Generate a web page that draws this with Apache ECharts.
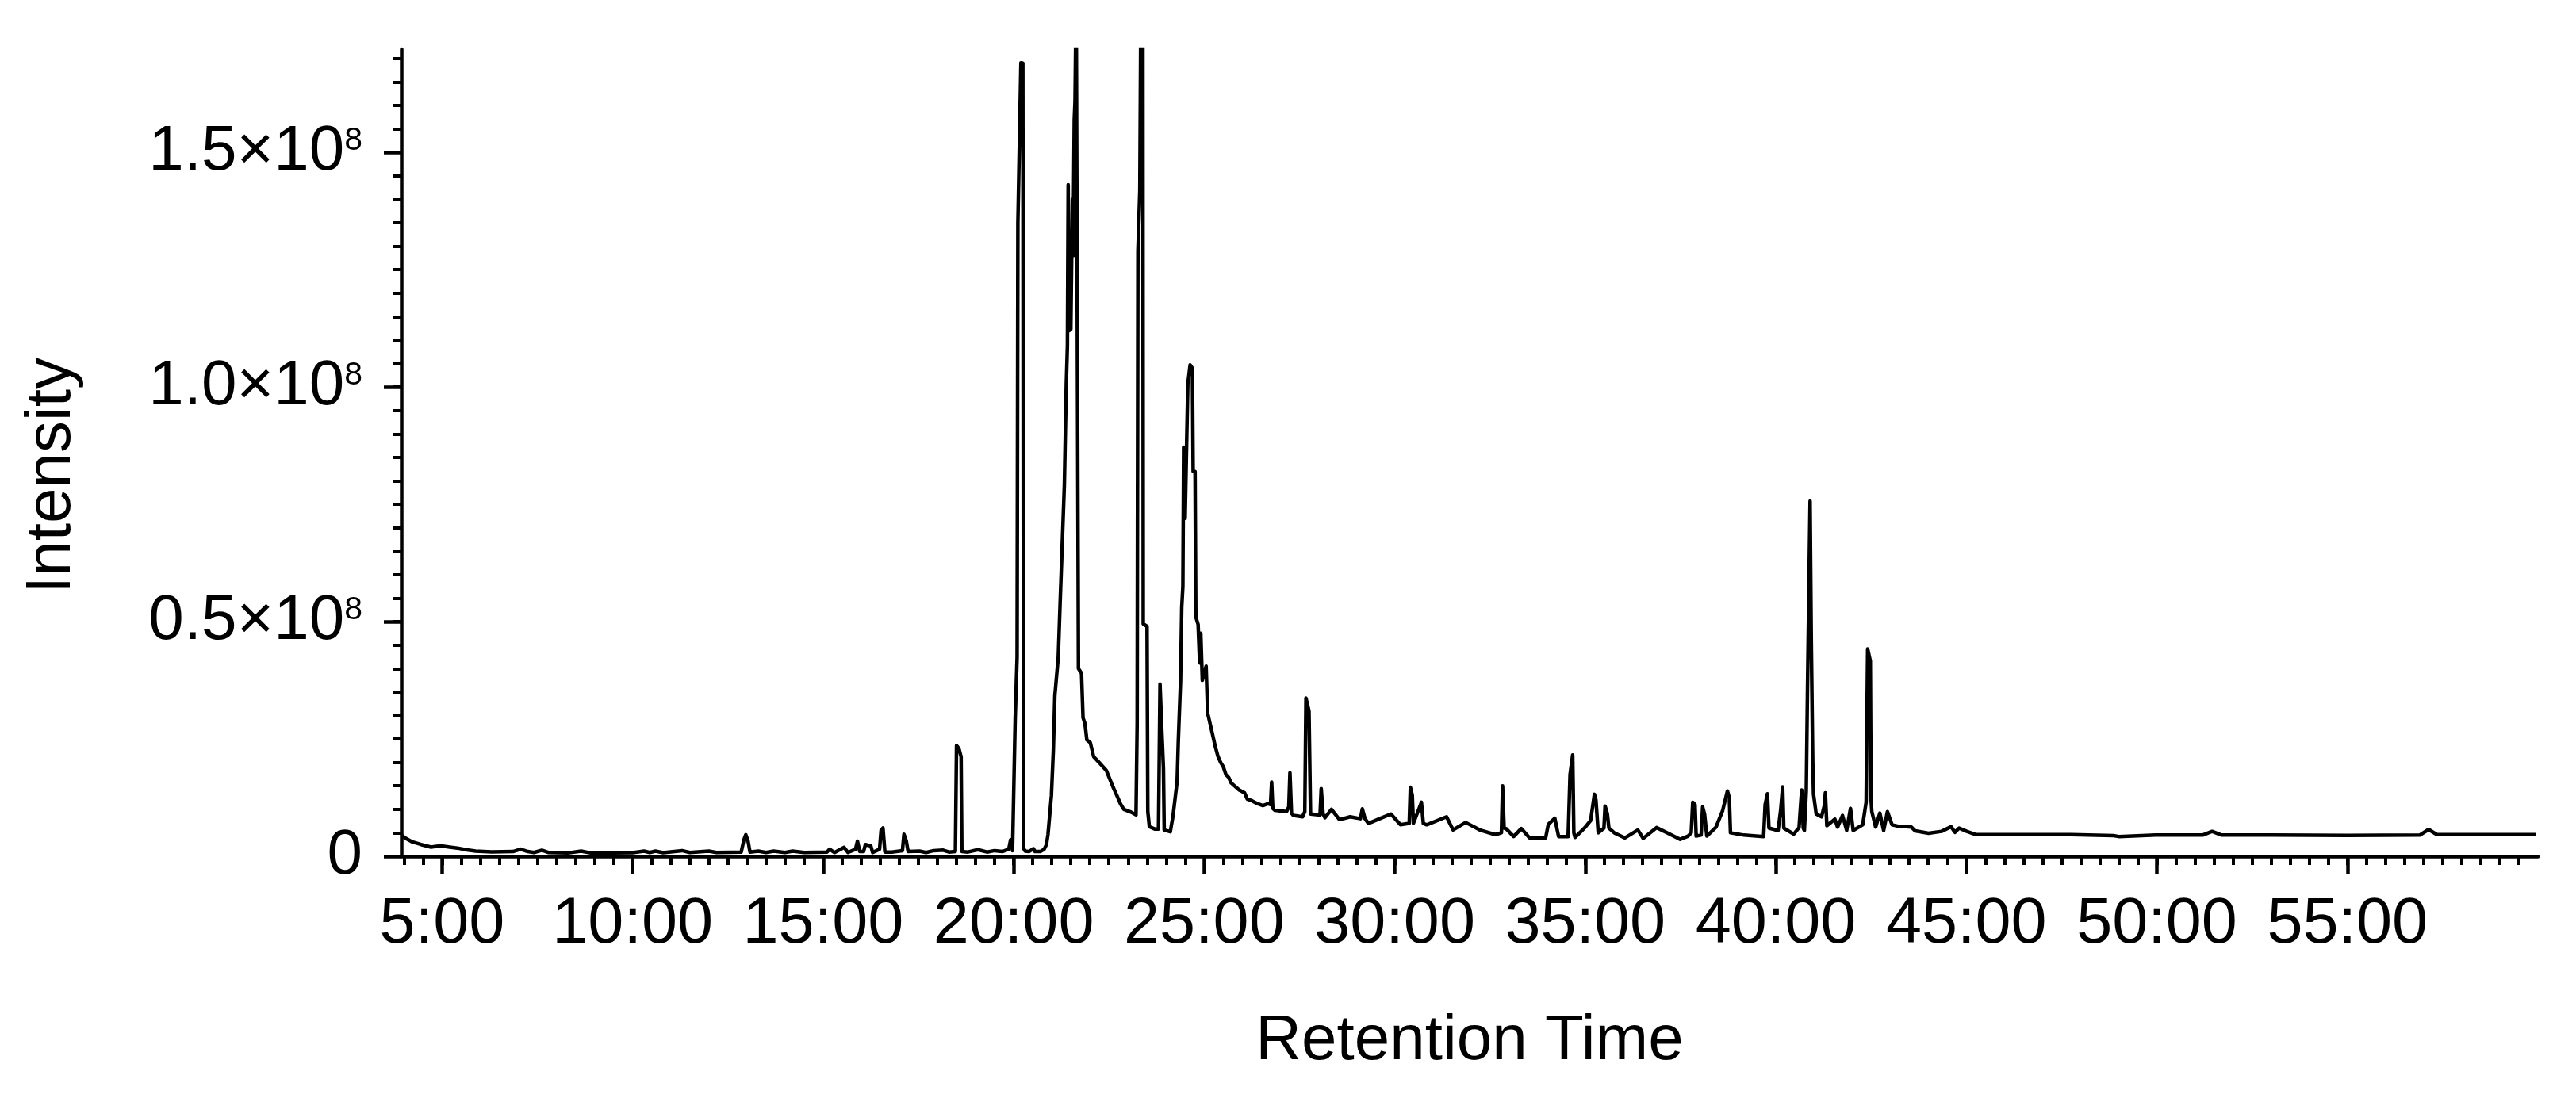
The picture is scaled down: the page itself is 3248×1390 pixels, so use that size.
<!DOCTYPE html>
<html>
<head>
<meta charset="utf-8">
<script src="https://cdn.jsdelivr.net/npm/echarts@6/dist/echarts.min.js"></script>
<style>
  html, body { margin: 0; padding: 0; background: #fff; }
  #chart { width: 3248px; height: 1390px; }
</style>
</head>
<body>
<div id="chart"></div>
<script>
// chromatogram: [retention time (min), intensity (millions)]
const segEarly = [
  [3.93,4.5],[4.05,3.8],[4.22,3.05],[4.45,2.5],[4.71,1.95],[4.85,2.1],[4.98,2.2],[5.2,1.95],[5.4,1.75],
  [5.65,1.35],[5.88,1.1],[6.3,0.95],[6.86,1.0],[7.06,1.5],[7.25,1.0],[7.41,0.8],[7.62,1.3],[7.8,0.8],
  [8.3,0.7],[8.65,1.1],[8.9,0.7],[9.5,0.7],[10.0,0.75],[10.3,1.1],[10.45,0.8],[10.6,1.1],[10.8,0.75],
  [11.3,1.2],[11.5,0.8],[12.0,1.1],[12.2,0.8],[12.85,0.9],[12.92,3.5],[12.97,4.6],[13.03,3.2],[13.08,0.9],
  [13.3,1.1],[13.5,0.8],[13.7,1.1],[14.0,0.8],[14.2,1.1],[14.5,0.8],[15.1,0.9],[15.17,1.5],[15.3,0.8],
  [15.55,1.9],[15.65,0.8],[15.85,1.5],[15.9,3.2],[15.96,1.0],[16.06,1.0],[16.11,2.5],[16.25,2.2],[16.3,0.8],
  [16.48,1.5],[16.52,5.5],[16.57,6.0],[16.62,0.9],[16.8,0.9],[17.08,1.2],[17.12,4.7],[17.18,3.3],[17.23,1.0],
  [17.53,1.1],[17.7,0.8],[17.9,1.2],[18.15,1.3],[18.3,0.9],[18.47,1.0],[18.5,23.6],[18.56,23.0],[18.62,21.2],
  [18.64,1.0],[18.8,0.9],[19.06,1.4],[19.3,0.9],[19.5,1.2],[19.7,1.0],[19.87,1.5],[19.92,3.5],[19.97,1.2]
];
const segMain = [
  [20.01,1.5],[20.04,29.5],[20.09,42.5],[20.11,134.8],[20.14,147.8],[20.19,169.1],[20.24,169.0],[20.26,1.7],
  [20.3,1.1],[20.4,1.0],[20.52,1.6],[20.56,1.0],[20.7,1.0],[20.8,1.5],[20.86,2.5],[20.9,4.6],[20.99,12.9],
  [21.04,22.4],[21.08,34.2],[21.17,42.5],[21.22,54.3],[21.27,65.6],[21.33,79.2],[21.38,100.5],[21.41,108.8],
  [21.43,143.1],[21.45,112.0],[21.5,112.3],[21.54,140.0],[21.56,128.0],[21.59,157.0],[21.61,161.0],[21.64,185],
  [21.67,185],[21.7,40.0],[21.78,39.0],[21.82,29.5],[21.87,28.3],[21.92,24.8],[22.01,24.2],[22.1,21.2],
  [22.24,20.0],[22.43,18.3],[22.52,16.5],[22.61,14.7],[22.71,12.9],[22.8,11.2],[22.89,10.0],[23.08,9.4],
  [23.21,8.8],[23.24,28.3],[23.26,128.9],[23.31,141.9],[23.34,185],[23.39,185],[23.4,49.5],[23.5,49.0],
  [23.52,9.5],[23.56,6.3],[23.7,5.8],[23.8,5.8],[23.84,36.7],[23.88,28.3],[23.93,18.8],[23.95,5.6],
  [24.11,5.2],[24.18,8.5],[24.29,16.0],[24.32,24.5],[24.38,37.5],[24.41,53.0],[24.44,57.5],[24.46,87.2],
  [24.5,72.0],[24.57,100.6],[24.63,104.7],[24.69,104.0],[24.71,82.0],[24.76,82.0],[24.78,51.0],[24.84,49.4],
  [24.88,41.2],[24.91,47.5],[24.95,37.5],[25.05,40.5],[25.09,30.5],[25.19,27.0],[25.29,23.4],[25.36,21.3],
  [25.43,20.0],[25.5,19.1],[25.57,17.4],[25.64,16.8],[25.71,15.6],[25.85,14.6],[25.92,14.1],[26.06,13.5],
  [26.13,12.2],[26.26,11.8],[26.4,11.2],[26.54,10.8],[26.68,11.2],[26.74,11.0],[26.77,15.8],[26.8,10.2],
  [26.85,9.8],[27.16,9.5],[27.22,10.5],[27.25,17.8],[27.29,9.2],[27.34,8.7],[27.58,8.4],[27.64,9.5],
  [27.67,33.7],[27.75,30.9],[27.79,9.0]
];
const segMid = [
  [28.04,8.8],[28.07,14.4],[28.12,9.0],[28.17,8.2],[28.34,10.0],[28.55,7.8],[28.83,8.4],[29.1,8.0],[29.15,10.1],
  [29.22,8.0],[29.31,7.0],[29.63,8.1],[29.9,9.0],[30.15,6.7],[30.38,7.0],[30.41,14.7],[30.46,13.0],[30.49,7.0],
  [30.7,11.5],[30.75,7.0],[30.84,6.7],[31.36,8.4],[31.53,5.6],[31.86,7.2],[32.23,5.6],[32.64,4.6],[32.8,5.0],
  [32.83,15.0],[32.87,6.0],[32.92,5.9],[33.12,4.2],[33.32,5.9],[33.54,3.9],[33.96,3.9],[34.03,6.8],[34.2,8.1],
  [34.3,4.2],[34.55,4.2],[34.6,17.4],[34.67,21.6],[34.7,5.0],[34.73,4.0],[34.99,6.1],[35.14,7.6],[35.24,13.2],
  [35.28,12.0],[35.34,5.0],[35.49,6.0],[35.52,10.7],[35.58,9.0],[35.62,6.0],[35.76,5.0],[36.04,3.9],[36.38,5.6],
  [36.52,3.8],[36.87,6.1],[37.15,5.0],[37.49,3.6],[37.7,4.3],[37.78,5.0],[37.82,11.5],[37.88,11.0],[37.91,4.3],
  [38.04,4.5],[38.08,10.5],[38.13,9.0],[38.19,4.3],[38.43,6.2],[38.6,9.6],[38.73,13.9],[38.78,12.5],[38.81,5.0],
  [39.16,4.5],[39.68,4.2],[39.72,11.0],[39.78,13.3],[39.82,6.0],[40.06,5.5],[40.13,10.0],[40.18,14.8],[40.21,6.0],
  [40.47,4.7],[40.61,6.1],[40.66,12.0],[40.68,14.1],[40.72,6.0],[40.75,5.5]
];
const segLate = [
  [40.8,14.0],[40.83,34.5],[40.9,75.7],[40.93,47.0],[40.97,20.0],[40.99,13.2],[41.06,9.0],[41.2,8.4],[41.28,11.0],
  [41.3,13.5],[41.34,6.5],[41.55,7.9],[41.62,6.2],[41.75,8.7],[41.86,5.5],[41.96,10.2],[42.03,5.5],[42.28,6.7],
  [42.37,11.5],[42.41,44.2],[42.44,44.2],[42.48,41.6],[42.5,12.0],[42.52,9.5],[42.62,6.2],[42.73,9.2],[42.83,5.5],
  [42.93,9.5],[43.05,6.7],[43.21,6.4],[43.56,6.2],[43.66,5.4],[44.01,4.9],[44.35,5.3],[44.6,6.3],[44.7,5.1],
  [44.81,6.0],[45.01,5.3],[45.26,4.6],[46.09,4.6],[46.99,4.6],[47.75,4.6],[48.86,4.4],[49.0,4.2],[49.97,4.5],
  [51.2,4.5],[51.45,5.3],[51.7,4.5],[52.3,4.5],[53.0,4.5],[55.0,4.45],[56.9,4.5],[57.13,5.7],[57.35,4.6],[59.95,4.6]
];

// axis ticks and labels
const xTickValues = [5, 10, 15, 20, 25, 30, 35, 40, 45, 50, 55];
const xTickLabels = ['5:00', '10:00', '15:00', '20:00', '25:00', '30:00', '35:00', '40:00', '45:00', '50:00', '55:00'];
const yTickValues = [0, 0.5e8, 1.0e8, 1.5e8];
const yTickLabels = ['0', '0.5×10{e|8}', '1.0×10{e|8}', '1.5×10{e|8}'];

const xMinor = [];
for (let m = 4; m <= 59.5; m += 0.5) xMinor.push(m);
const yMinor = [];
for (let v = 0; v <= 170; v += 5) yMinor.push(v * 1e6);

const points = segEarly.concat(segMain, segMid, segLate).map(p => [p[0], p[1] * 1e6]);

const font = '"Liberation Sans", Arial, sans-serif';
const black = '#000';

const chart = echarts.init(document.getElementById('chart'));
chart.setOption({
  backgroundColor: '#fff',
  animation: false,
  grid: { left: 506, top: 62, right: 48, bottom: 310 },
  xAxis: [
    {
      type: 'value', min: 3.93, max: 60, position: 'bottom',
      name: 'Retention Time', nameLocation: 'middle', nameGap: 194,
      nameTextStyle: { color: black, fontSize: 80, fontFamily: font },
      axisLine: { show: true, onZero: false, lineStyle: { color: black, width: 4.5 } },
      axisTick: { show: true, length: 22, customValues: xTickValues, lineStyle: { color: black, width: 4.5 } },
      axisLabel: {
        customValues: xTickValues, margin: 46, color: black, fontSize: 81, fontFamily: font,
        formatter: v => xTickLabels[xTickValues.indexOf(v)]
      },
      splitLine: { show: false }
    },
    {
      type: 'value', min: 3.93, max: 60, position: 'bottom',
      axisLine: { show: false },
      axisTick: { show: true, length: 11, customValues: xMinor, lineStyle: { color: black, width: 4 } },
      axisLabel: { show: false },
      splitLine: { show: false }
    }
  ],
  yAxis: [
    {
      type: 'value', min: 0, max: 1.72e8, position: 'left',
      name: 'Intensity', nameLocation: 'middle', nameGap: 400,
      nameTextStyle: { color: black, fontSize: 80, fontFamily: font, padding: [0, 58, 0, 0] },
      axisLine: { show: true, lineStyle: { color: black, width: 4.5 } },
      axisTick: { show: true, length: 22, customValues: yTickValues, lineStyle: { color: black, width: 4.5 } },
      axisLabel: {
        customValues: yTickValues, margin: 49, color: black, fontSize: 80, fontFamily: font,
        formatter: v => yTickLabels[yTickValues.indexOf(v)],
        rich: { e: { fontSize: 41, fontFamily: font, color: black, padding: [0, 0, 29, 0] } }
      },
      splitLine: { show: false }
    },
    {
      type: 'value', min: 0, max: 1.72e8, position: 'left',
      axisLine: { show: false },
      axisTick: { show: true, length: 11, customValues: yMinor, lineStyle: { color: black, width: 4 } },
      axisLabel: { show: false },
      splitLine: { show: false }
    }
  ],
  series: [{
    type: 'line',
    xAxisIndex: 0,
    yAxisIndex: 0,
    data: points,
    showSymbol: false,
    clip: true,
    lineStyle: { color: black, width: 4.5, join: 'round' }
  }]
});
</script>
</body>
</html>
